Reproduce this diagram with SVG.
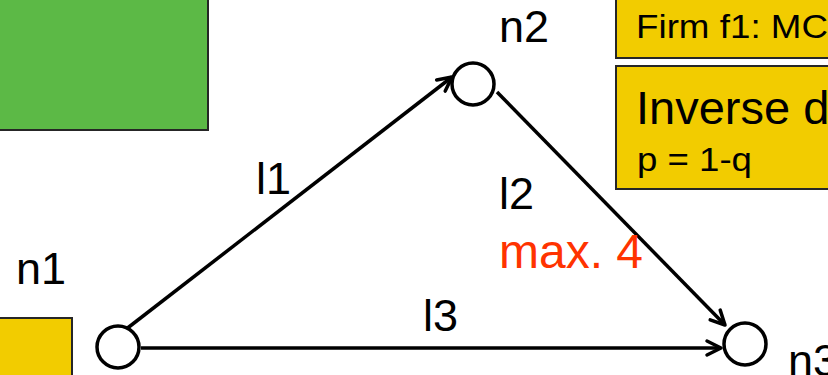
<svg xmlns="http://www.w3.org/2000/svg" width="828" height="375" viewBox="0 0 828 375">
<defs>
<style>
.t{font-family:"Liberation Sans",Arial,sans-serif;fill:#000}
.lbl{font-size:45px}
.box{fill:#f2cc00;stroke:#262626;stroke-width:2}
.node{fill:#fff;stroke:#000;stroke-width:3.5}
.edge{stroke:#000;stroke-width:3.5;fill:none;marker-end:url(#arr)}
</style>
<marker id="arr" viewBox="0 0 20 20" refX="18" refY="10" markerWidth="20" markerHeight="20" markerUnits="userSpaceOnUse" orient="auto" overflow="visible">
<path d="M4,3 L18,10 L4,17" fill="none" stroke="#000" stroke-width="3.5" stroke-linecap="round" stroke-linejoin="round"/>
</marker>
</defs>
<rect x="-2" y="-2" width="210" height="132" fill="#5cb946" stroke="#262626" stroke-width="2"/>
<g id="box-firm">
<rect class="box" x="616" y="-2" width="220" height="60"/>
<text class="t" x="636" y="38" font-size="34" textLength="192" lengthAdjust="spacingAndGlyphs">Firm f1: MC</text>
</g>
<g id="box-demand">
<rect class="box" x="616" y="66" width="220" height="123"/>
<text class="t" x="636" y="124" font-size="47">Inverse d</text>
<text class="t" x="637" y="171" font-size="33" textLength="115" lengthAdjust="spacingAndGlyphs">p = 1-q</text>
</g>
<rect class="box" x="-2" y="318" width="74" height="60"/>
<g id="edges">
<g id="l1"><path class="edge" d="M125,330 L452,77"/><text class="t lbl" x="256" y="194">l1</text></g>
<g id="l2"><path class="edge" d="M497,92 L725,325"/><text class="t lbl" x="499" y="209">l2</text><text class="t" x="499" y="268" font-size="48" style="fill:#ff3300">max. 4</text></g>
<g id="l3"><path class="edge" d="M141,348 L721,348"/><text class="t lbl" x="423" y="331">l3</text></g>
</g>
<g id="n1"><circle class="node" cx="118" cy="347" r="21"/><text class="t lbl" x="16" y="284">n1</text></g>
<g id="n2"><circle class="node" cx="473" cy="84" r="21"/><text class="t lbl" x="499" y="42">n2</text></g>
<g id="n3"><circle class="node" cx="745" cy="344" r="21"/><text class="t lbl" x="788" y="376">n3</text></g>
</svg>
